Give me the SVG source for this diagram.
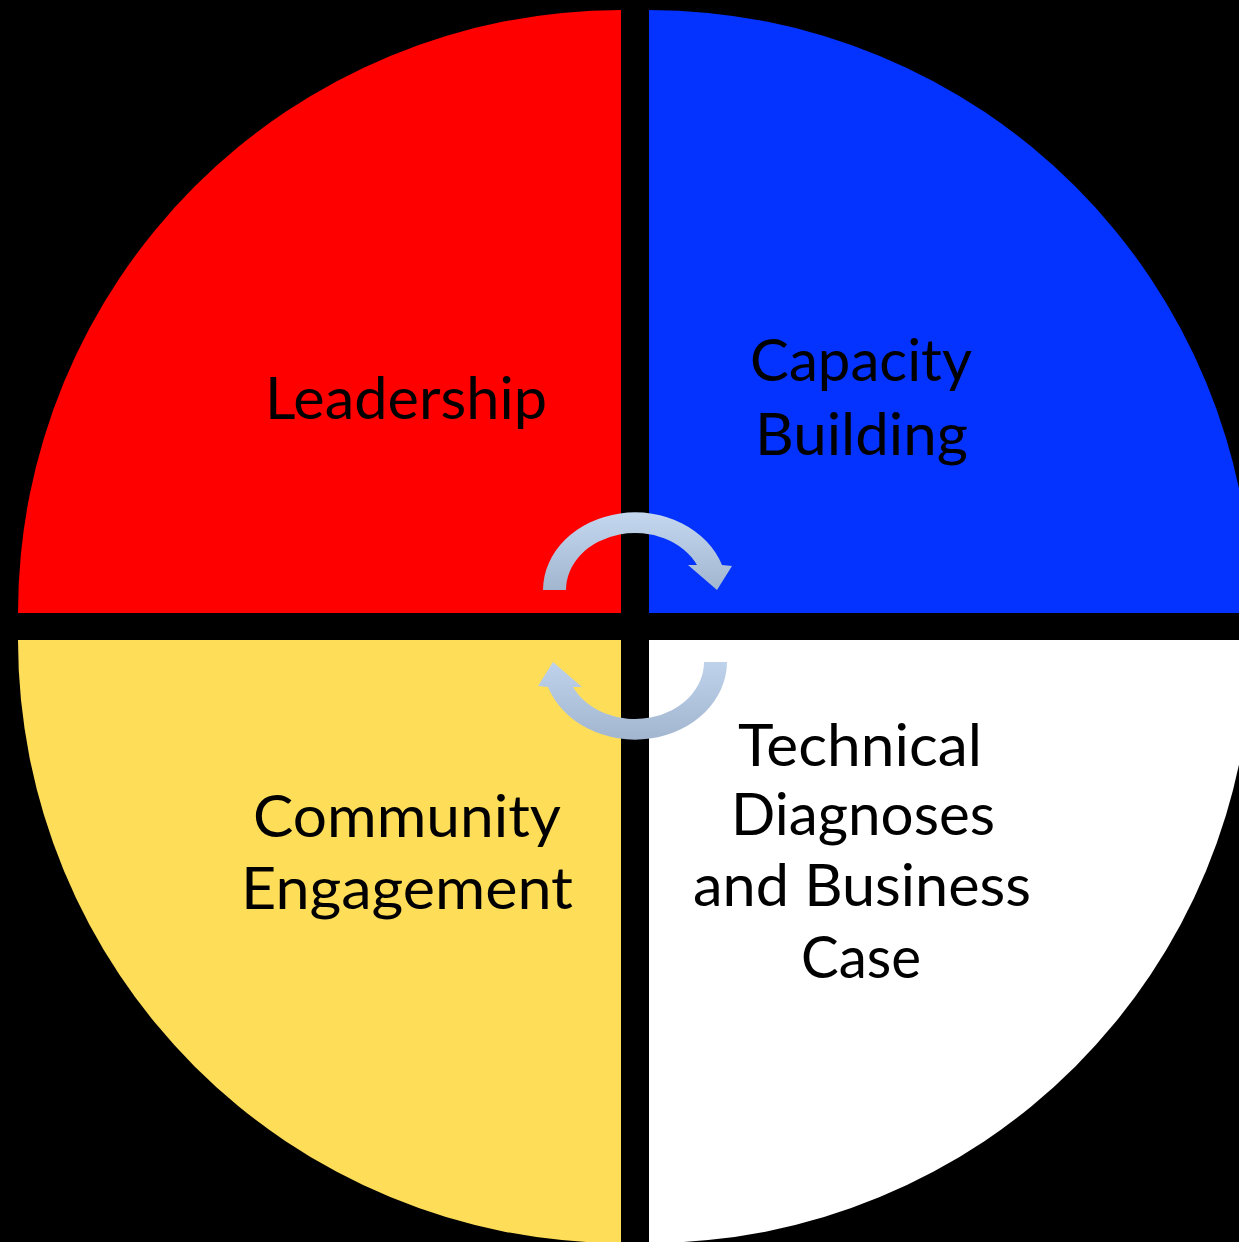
<svg xmlns="http://www.w3.org/2000/svg" width="1239" height="1242" viewBox="0 0 1239 1242">
  <style>
    .lbl { font-family: Lato, "Open Sans", "Liberation Sans", sans-serif; font-size: 59px; fill: #000; text-anchor: middle; }
  </style>
  <defs>
    <linearGradient id="gTop" x1="0" y1="0" x2="0" y2="1">
      <stop offset="0" stop-color="#c4d7ef"/>
      <stop offset="1" stop-color="#a2b6d0"/>
    </linearGradient>
    <linearGradient id="gBot" x1="0" y1="0" x2="0" y2="1">
      <stop offset="0" stop-color="#bed2ec"/>
      <stop offset="1" stop-color="#a2b6d0"/>
    </linearGradient>
  </defs>
  <rect x="0" y="0" width="1239" height="1242" fill="#000"/>

  <g id="leadership">
    <path d="M621,613 L18,613 A603,603 0 0 1 621,10 Z" fill="#ff0000"/>
    <text class="lbl" x="406" y="419" textLength="282" lengthAdjust="spacingAndGlyphs">Leadership</text>
  </g>
  <g id="capacity-building">
    <path d="M649,613 L649,10 A603,603 0 0 1 1252,613 Z" fill="#0433ff"/>
    <text class="lbl" x="861" y="381" textLength="222" lengthAdjust="spacingAndGlyphs">Capacity</text>
    <text class="lbl" x="861.5" y="455" textLength="213" lengthAdjust="spacingAndGlyphs">Building</text>
  </g>
  <g id="community-engagement">
    <path d="M621,640 L18,640 A603,603 0 0 0 621,1243 Z" fill="#fede59"/>
    <text class="lbl" x="407" y="837" textLength="308" lengthAdjust="spacingAndGlyphs">Community</text>
    <text class="lbl" x="407" y="909" textLength="332" lengthAdjust="spacingAndGlyphs">Engagement</text>
  </g>
  <g id="technical-diagnoses">
    <path d="M649,640 L1252,640 A603,603 0 0 1 649,1243 Z" fill="#ffffff"/>
    <text class="lbl" x="860" y="766" textLength="244" lengthAdjust="spacingAndGlyphs">Technical</text>
    <text class="lbl" x="863" y="835" textLength="264" lengthAdjust="spacingAndGlyphs">Diagnoses</text>
    <text class="lbl" x="862" y="906" textLength="338" lengthAdjust="spacingAndGlyphs">and Business</text>
    <text class="lbl" x="861" y="978" textLength="120" lengthAdjust="spacingAndGlyphs">Case</text>
  </g>

  <g id="connectors">
    <path d="M543,590 A92,78 0 0 1 722,565 L732,566 L717,590 L688,565 L697,565 A69,57 0 0 0 566,590 Z" fill="url(#gTop)"/>
    <path d="M727,662 A92,78 0 0 1 548,687 L538,686 L553,662 L582,687 L573,687 A69,57 0 0 0 704,662 Z" fill="url(#gBot)"/>
  </g>
</svg>
